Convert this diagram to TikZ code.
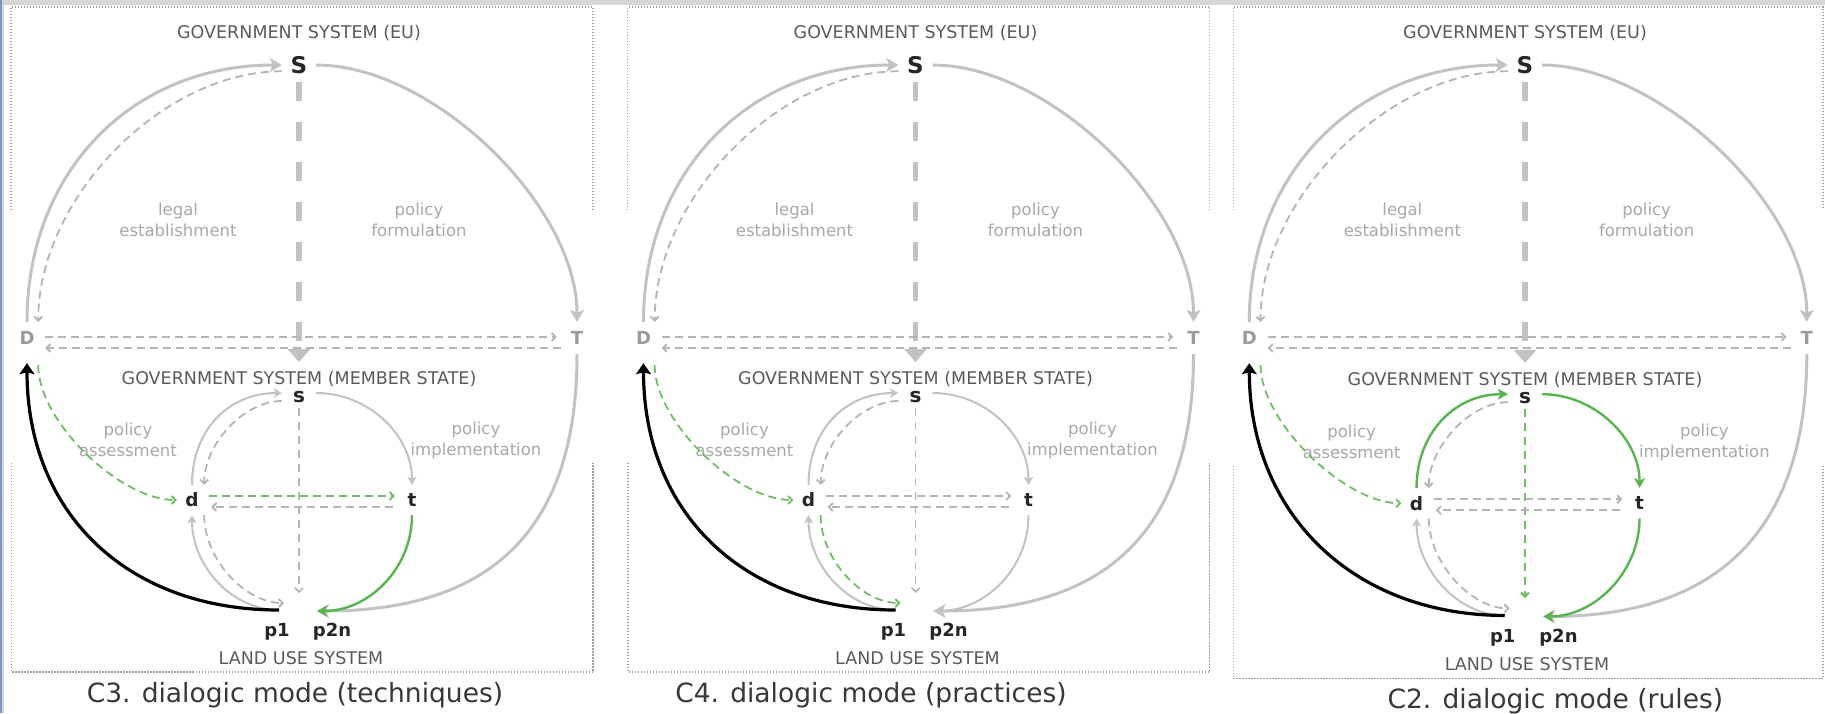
\documentclass[tikz,border=0pt]{standalone}
\usepackage{fontspec}
\setmainfont{DejaVu Sans}
\usetikzlibrary{arrows.meta,calc}

\definecolor{arcgray}{HTML}{C2C2C2}
\definecolor{dashgray}{HTML}{B4B4B4}
\definecolor{hdrgray}{HTML}{5A5A5A}
\definecolor{lblgray}{HTML}{A8A8A8}
\definecolor{nodegray}{HTML}{9A9A9A}
\definecolor{framegray}{HTML}{A0A0A0}
\definecolor{leafgreen}{RGB}{88,180,80}
\definecolor{dashgreen}{RGB}{110,190,100}
\definecolor{capgray}{HTML}{383838}
\definecolor{topbar}{HTML}{D6D6D6}
\definecolor{edgeblue}{RGB}{120,150,195}

\tikzset{
  hdr/.style={text=hdrgray, font=\fontsize{17.5}{20}\selectfont, inner sep=2pt},
  lbl/.style={text=lblgray, font=\fontsize{16.5}{21}\selectfont, align=center},
  bigS/.style={font=\bfseries\fontsize{23}{25}\selectfont, text=black!85,
    minimum width=34pt, minimum height=34pt, inner sep=0pt},
  smallS/.style={font=\bfseries\fontsize{20}{22}\selectfont, text=black!85,
    minimum width=34pt, minimum height=22pt, inner sep=0pt},
  outernode/.style={font=\bfseries\fontsize{18}{20}\selectfont, text=nodegray,
    minimum width=22pt, minimum height=32pt, inner sep=0pt},
  innernode/.style={font=\bfseries\fontsize{18.5}{20}\selectfont, text=black!85,
    minimum width=30pt, minimum height=30pt, inner sep=0pt},
  pnode/.style={font=\bfseries\fontsize{18}{20}\selectfont, text=black!85, inner sep=0pt},
  captext/.style={text=capgray, font=\fontsize{26.5}{30}\selectfont},
  frame/.style={draw=framegray, line width=1.1pt, dash pattern=on 1.1pt off 1.9pt},
  grayarc/.style={draw=arcgray, line width=3pt, -{Stealth[length=12pt,width=14pt,inset=3pt]}},
  innerarc/.style={draw=arcgray, line width=2pt, -{Stealth[length=8pt,width=9pt,inset=2pt]}},
  graydash/.style={draw=dashgray, line width=1.8pt, dash pattern=on 8pt off 5pt,
    -{Straight Barb[length=4pt,width=8pt]}},
  greendash/.style={graydash, draw=dashgreen},
  greenarc/.style={draw=leafgreen, line width=2.4pt, -{Stealth[length=10pt,width=11pt,inset=2.5pt]}},
  blackarc/.style={draw=black, line width=3.2pt, -{Stealth[length=11pt,width=15pt,inset=2pt]}},
  bigdash/.style={draw=arcgray, line width=5.5pt, dash pattern=on 19pt off 21pt,
    -{Triangle[length=13pt,width=22pt]}},
  vdash/.style={draw=dashgray, line width=1.6pt, dash pattern=on 8pt off 6pt,
    -{Straight Barb[length=4pt,width=8pt]}},
  % connectors whose colour changes from one mode to the next
  c-dt/.style={graydash},
  c-tp/.style={innerarc},
  c-sl/.style={innerarc},
  c-sr/.style={innerarc},
  c-sv/.style={vdash},
  c-dp/.style={graydash},
}

% #1 name prefix, #2 centre x, #3 x scale, #4 y scale of the lower half,
% #5 caption, #6 caption position
\newcommand\policypanel[6]{%
  \begin{scope}[shift={(#2,0)}, xscale=#3]
    \draw[frame] (-288,-210) -- (-288,-7) -- (294,-7) -- (294,-210);
    \node[hdr] (#1-hEU) at (0,-33) {GOVERNMENT SYSTEM (EU)};
    \node[bigS] (#1-S) at (0,-65) {S};
    \node[outernode] (#1-D) at (-272,-338) {D};
    \node[outernode] (#1-T) at (278,-338) {T};
    \node[lbl] (#1-lLegal) at (-121,-220) {legal\\establishment};
    \node[lbl] (#1-lForm) at (120,-220) {policy\\formulation};
    \node[captext] (#1-cap) at #6 {#5};
  \end{scope}
  \begin{scope}[shift={(#2,-338)}, xscale=#3, yscale=#4]
    \draw[frame] (-287.5,-125) -- (-287.5,-334) -- (294,-334) -- (294,-125);
    \node[hdr] (#1-hMS) at (0,-41) {GOVERNMENT SYSTEM (MEMBER STATE)};
    \node[smallS] (#1-s) at (0,-59) {s};
    \node[innernode] (#1-d) at (-107,-162) {d};
    \node[innernode] (#1-t) at (113,-162) {t};
    \node[pnode] (#1-p1) at (-22,-294) {p1};
    \node[pnode] (#1-p2n) at (33,-294) {p2n};
    \node[hdr] (#1-land) at (2,-320) {LAND USE SYSTEM};
    \node[lbl] (#1-lAss) at (-171,-102) {policy\\assessment};
    \node[lbl] (#1-lImp) at (177,-102) {policy\\implementation};
    \coordinate (#1-j1) at (-20,-272);
    \coordinate (#1-j2) at (18,-273);
    \coordinate (#1-pt) at (0,-255);
  \end{scope}
  % government system (EU)
  \draw[grayarc] (#1-D.north) .. controls +(0,150) and +(-150,0) .. (#1-S.west);
  \draw[graydash] (#1-S.200) .. controls +(-120,0) and +(0,123) .. (#1-D.north east);
  \draw[grayarc] (#1-S.east) .. controls +(117,0) and +(0,116) .. (#1-T.north);
  \draw[bigdash, shorten >=7pt] (#1-S.south) -- (#1-hMS.north);
  \draw[graydash, shorten <=7pt, shorten >=9pt] ([yshift=1pt]#1-D.east) -- ([yshift=1pt]#1-T.west);
  \draw[graydash, shorten <=5pt, shorten >=7pt] ([yshift=-10pt]#1-T.west) -- ([yshift=-10pt]#1-D.east);
  \draw[grayarc] (#1-T.south) .. controls +(0,-175) and +(175,0) .. (#1-j2);
  % government system (member state)
  \draw[graydash] ([yshift=-4pt]#1-s.west) .. controls +(-38,0) and +(0,41) .. ([xshift=-3pt]#1-d.north east);
  \draw[c-sl] (#1-d.north) .. controls +(0,55) and +(-53,0) .. ([yshift=4pt]#1-s.west);
  \draw[c-sr] ([yshift=4pt]#1-s.east) .. controls +(53,0) and +(0,49) .. (#1-t.north);
  \draw[c-sv] (#1-s.south) -- (#1-pt);
  \draw[graydash, shorten <=4pt, shorten >=4pt] ([yshift=-7pt]#1-t.west) -- ([yshift=-7pt]#1-d.east);
  \draw[c-dt, shorten <=2pt, shorten >=2pt] ([yshift=4pt]#1-d.east) -- ([yshift=4pt]#1-t.west);
  \draw[innerarc] (#1-j1) .. controls +(-48,0) and +(0,-50) .. (#1-d.south);
  \draw[c-dp] ([xshift=-3pt]#1-d.south east) .. controls +(0,-44) and +(-39,0) .. ([shift={(5pt,7pt)}]#1-j1);
  \draw[c-tp] (#1-t.south) .. controls +(0,-53) and +(52,0) .. (#1-j2);
  % land use system back to the EU level
  \draw[blackarc] (#1-j1) .. controls +(-152,0) and +(0,-150) .. ([yshift=-9pt]#1-D.south);
  \draw[greendash] ([yshift=-11pt]#1-D.south east) .. controls +(0,-56) and +(-57,0) .. (#1-d.west);
}

\begin{document}
\begin{tikzpicture}[x=1pt,y=1pt]
  \useasboundingbox (0,0) rectangle (1825,-713);
  \fill[white] (0,0) rectangle (1825,-713);
  \fill[topbar] (0,0) rectangle (1825,-4.5);
  \fill[edgeblue] (0,0) rectangle (2.2,-713);
  \fill[topbar] (2.2,0) rectangle (4,-713);

  \begin{scope}[c-dt/.style={greendash}, c-tp/.style={greenarc}]
    \policypanel{ca}{299}{1}{1}{C3. dialogic mode (techniques)}{(-4,-695)}
  \end{scope}

  \begin{scope}[c-dp/.style={greendash}]
    \policypanel{cb}{915.5}{1}{1}{C4. dialogic mode (practices)}{(-44.5,-695)}
  \end{scope}

  \begin{scope}[c-sl/.style={greenarc}, c-sr/.style={greenarc},
                c-sv/.style={vdash, draw=dashgreen, line width=2.2pt},
                c-tp/.style={greenarc}]
    \policypanel{cc}{1525}{1.0136}{1.02}{C2. dialogic mode (rules)}{(30,-701)}
  \end{scope}
\end{tikzpicture}
\end{document}
